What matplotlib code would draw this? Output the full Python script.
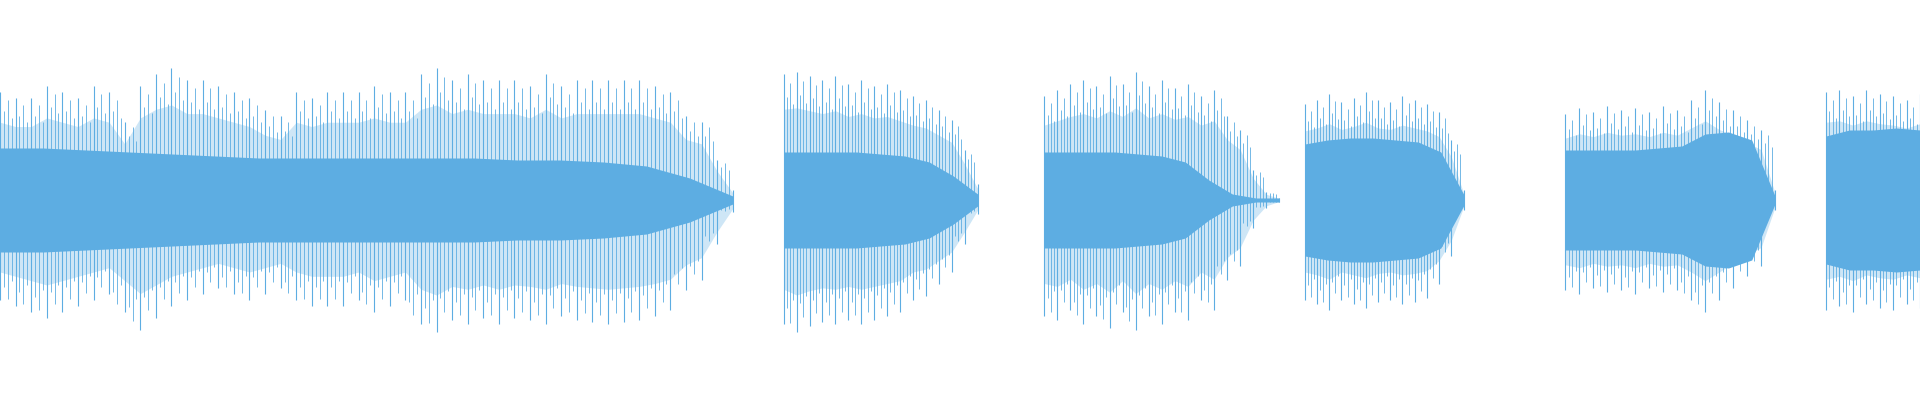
import numpy as np
import matplotlib.pyplot as plt

COLOR = "#5DADE2"
DURATION = 9.8  # seconds shown across the full width

# segment start / end times (s)
SEG_START = [0.00, 4.00, 5.33, 6.66, 7.99, 9.32]
SEG_END = [3.74, 4.99, 6.53, 7.47, 9.06, 9.80]

# dense core envelope (fraction of full scale), sampled evenly per segment
CORE = [
    [0.26, 0.26, 0.25, 0.24, 0.23, 0.22, 0.21, 0.21, 0.21, 0.21, 0.21, 0.21, 0.20, 0.20, 0.19, 0.17, 0.11, 0.02],
    [0.24, 0.24, 0.24, 0.24, 0.23, 0.22, 0.19, 0.12, 0.03],
    [0.24, 0.24, 0.24, 0.24, 0.23, 0.22, 0.19, 0.10, 0.03, 0.01, 0.01],
    [0.28, 0.30, 0.31, 0.31, 0.30, 0.29, 0.24, 0.03],
    [0.25, 0.25, 0.25, 0.25, 0.26, 0.27, 0.33, 0.34, 0.30, 0.02],
    [0.32, 0.35, 0.35, 0.36, 0.35],
]

# spike tops / bottoms (fraction of full scale), one per drawn spike
UPPER = [
    [0.54, 0.51, 0.51, 0.57, 0.54, 0.51, 0.57, 0.54, 0.39, 0.57, 0.63, 0.66, 0.60, 0.60,
     0.57, 0.54, 0.51, 0.45, 0.42, 0.54, 0.51, 0.54, 0.54, 0.54, 0.57, 0.54, 0.54, 0.63,
     0.66, 0.60, 0.63, 0.60, 0.60, 0.60, 0.57, 0.63, 0.57, 0.60, 0.60, 0.60, 0.60, 0.60,
     0.57, 0.54, 0.42, 0.39, 0.20, 0.05],
    [0.63, 0.64, 0.62, 0.60, 0.62, 0.58, 0.60, 0.57, 0.58, 0.55, 0.52, 0.50, 0.45, 0.40, 0.25, 0.08],
    [0.52, 0.55, 0.58, 0.60, 0.57, 0.62, 0.58, 0.64, 0.57, 0.60, 0.56, 0.58, 0.52, 0.55, 0.42, 0.35, 0.15, 0.04, 0.01],
    [0.48, 0.50, 0.53, 0.49, 0.51, 0.54, 0.50, 0.49, 0.52, 0.50, 0.48, 0.44, 0.30, 0.05],
    [0.43, 0.46, 0.44, 0.47, 0.45, 0.46, 0.44, 0.47, 0.45, 0.50, 0.55, 0.49, 0.45, 0.40, 0.35, 0.05],
    [0.54, 0.55, 0.52, 0.55, 0.53, 0.52, 0.50, 0.53],
]
LOWER = [
    [0.50, 0.53, 0.56, 0.59, 0.56, 0.53, 0.50, 0.47, 0.56, 0.65, 0.59, 0.53, 0.50, 0.47,
     0.44, 0.47, 0.50, 0.47, 0.44, 0.50, 0.53, 0.53, 0.53, 0.50, 0.56, 0.53, 0.50, 0.62,
     0.66, 0.60, 0.62, 0.59, 0.62, 0.59, 0.60, 0.62, 0.58, 0.60, 0.61, 0.62, 0.61, 0.60,
     0.58, 0.55, 0.45, 0.40, 0.22, 0.06],
    [0.62, 0.66, 0.63, 0.61, 0.62, 0.60, 0.62, 0.60, 0.58, 0.56, 0.50, 0.48, 0.42, 0.36, 0.22, 0.07],
    [0.58, 0.60, 0.55, 0.62, 0.58, 0.64, 0.56, 0.65, 0.58, 0.62, 0.56, 0.60, 0.50, 0.55, 0.40, 0.33, 0.14, 0.04, 0.01],
    [0.50, 0.52, 0.55, 0.50, 0.52, 0.54, 0.51, 0.50, 0.52, 0.51, 0.49, 0.42, 0.28, 0.05],
    [0.45, 0.47, 0.44, 0.46, 0.45, 0.47, 0.44, 0.46, 0.45, 0.50, 0.56, 0.50, 0.44, 0.38, 0.33, 0.05],
    [0.55, 0.53, 0.56, 0.52, 0.54, 0.55, 0.52, 0.54],
]

fig = plt.figure(figsize=(19.2, 4.0), dpi=100)
ax = fig.add_axes([0, 0, 1, 1])

for t0, t1, core, up, lo in zip(SEG_START, SEG_END, CORE, UPPER, LOWER):
    up = np.array(up)
    lo = np.array(lo)
    tc = np.linspace(t0, t1, len(core))
    ts = np.linspace(t0, t1, len(up))
    # lighter hatched band just outside the core
    ax.fill_between(ts, -lo * 0.72, up * 0.72, color=COLOR, alpha=0.3, linewidth=0)
    ax.vlines(ts, -lo, up, color=COLOR, linewidth=0.8)
    # interleaved shorter strokes give the hatched texture
    for frac, scale in [(0.25, 0.82), (0.5, 0.93), (0.75, 0.76)]:
        tm = ts[:-1] + frac * (ts[1:] - ts[:-1])
        ax.vlines(tm, -lo[1:] * scale, up[:-1] * scale, color=COLOR, linewidth=0.6)
    ax.fill_between(tc, -np.array(core), core, color=COLOR, linewidth=0)
    ax.hlines(0, t0, t1, color=COLOR, linewidth=0.8)

ax.set_xlim(0, DURATION)
ax.set_ylim(-1, 1)
ax.axis("off")
fig.savefig("out.png", dpi=100)
